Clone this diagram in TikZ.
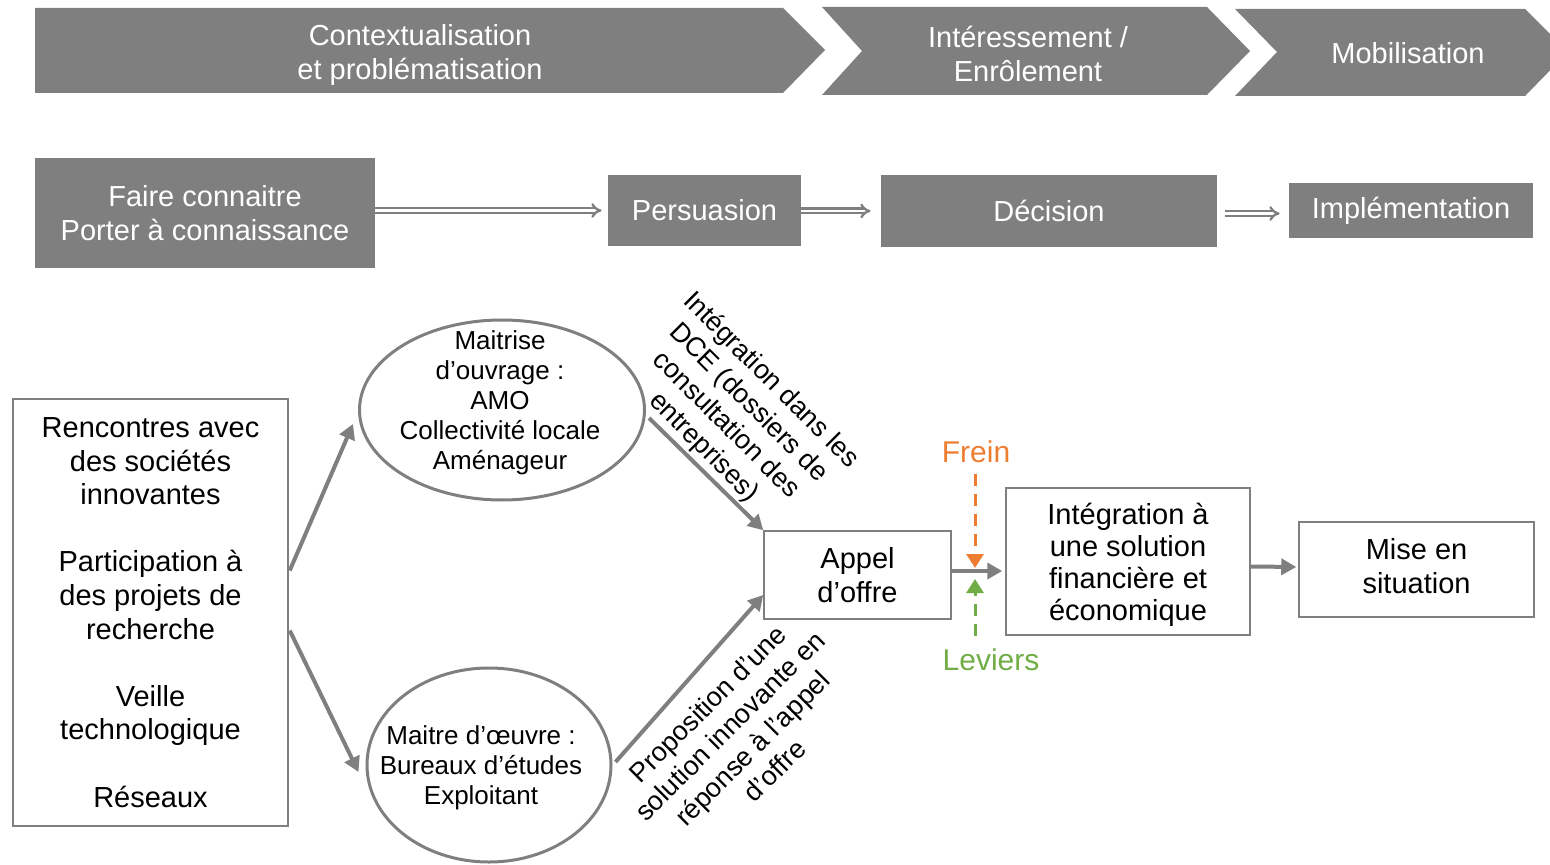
\documentclass[tikz,border=0pt]{standalone}
\usepackage{fontspec}
\setmainfont{Liberation Sans}
\usetikzlibrary{arrows.meta,shapes.geometric,calc}
\definecolor{dg}{HTML}{7F7F7F}
\definecolor{fr}{HTML}{ED7D31}
\definecolor{lv}{HTML}{70AD47}
\begin{document}
\begin{tikzpicture}[x=0.5pt,y=-0.5pt,
  htext/.style={text=white, font=\fontsize{14.5}{17}\selectfont, align=center},
  gbox/.style={fill=dg, text=white, font=\fontsize{14.5}{17}\selectfont, align=center, inner sep=0pt},
  wbox/.style={draw=dg, line width=0.75pt, fill=white, align=center, font=\fontsize{14.5}{16.8}\selectfont, inner sep=0pt},
  ell/.style={ellipse, draw=dg, line width=1.5pt, inner sep=0pt},
  etext/.style={font=\fontsize{13}{15}\selectfont, align=center},
  rtext/.style={font=\fontsize{13.5}{15.8}\selectfont, align=center},
  arr/.style={draw=dg, line width=2pt, -{Triangle[length=7.5pt,width=8pt]}},
  dbl/.style={draw=dg, double=white, double distance=1.2pt, line width=1.15pt, -{Implies}},
  dashfr/.style={draw=fr, line width=1.5pt, dash pattern=on 6pt off 4pt, -{Triangle[length=7pt,width=8.5pt]}},
  dashlv/.style={draw=lv, line width=1.5pt, dash pattern=on 6pt off 4pt, -{Triangle[length=7pt,width=8.5pt]}}
]
\useasboundingbox (0,0) rectangle (1550,865);
\clip (0,0) rectangle (1550,865);
% header chevrons
\fill[dg] (35,8) -- (783,8) -- (825,50) -- (783,93) -- (35,93) -- cycle;
\fill[dg] (822,7) -- (1207,7) -- (1250,51) -- (1207,95) -- (822,95) -- (862,51) -- cycle;
\fill[dg] (1235,9) -- (1525,9) -- (1568,52) -- (1525,96) -- (1235,96) -- (1277,52) -- cycle;
\node[htext] (c1) at (420,55) {Contextualisation\\et problématisation};
\node[htext] (c2) at (1028,54) {Intéressement /\\Enrôlement};
\node[htext] (c3) at (1408,53) {Mobilisation};
% second row
\node[gbox, minimum width=170pt, minimum height=55pt] (b1) at (205,213) {Faire connaitre\\Porter à connaissance};
\node[gbox, minimum width=96.5pt, minimum height=35.5pt] (b2) at (704.5,210.5) {Persuasion};
\node[gbox, minimum width=168pt, minimum height=36pt] (b3) at (1049,211) {Décision};
\node[gbox, minimum width=122pt, minimum height=27.5pt] (b4) at (1411,210.5) {Implémentation};
\draw[dbl, shorten >=3pt] (b1.east |- b2.west) -- (b2.west);
\draw[dbl, shorten >=5pt] (b2.east |- b3.west) -- (b3.west);
\draw[dbl, shorten <=4pt, shorten >=4.5pt] ($(b3.east |- b4.west)+(0,3)$) -- ($(b4.west)+(0,3)$);
% bottom part
\node[wbox, minimum width=137.5pt, minimum height=213.5pt] (left) at (150.5,612.5)
  {Rencontres avec\\des sociétés\\innovantes\\[16.8pt]Participation à\\des projets de\\recherche\\[16.8pt]Veille\\technologique\\[16.8pt]Réseaux};
\node[ell, minimum width=142.5pt, minimum height=90pt] (e1) at (502,410) {};
\node[etext] (t1) at (500,403) {Maitrise\\d’ouvrage :\\AMO\\Collectivité locale\\Aménageur};
\node[ell, minimum width=122pt, minimum height=97pt] (e2) at (489,765) {};
\node[etext] (t2) at (481,768) {Maitre d’œuvre :\\Bureaux d’études\\Exploitant};
\node[wbox, minimum width=93.5pt, minimum height=44pt] (appel) at (857.5,575) {Appel\\d’offre};
\node[wbox, minimum width=122pt, minimum height=73.5pt] (integ) at (1128,561.5) {};
\node[font=\fontsize{14.5}{16}\selectfont, align=center] (integt) at (1128,565)
  {Intégration à\\une solution\\financière et\\économique};
\node[wbox, minimum width=117.5pt, minimum height=47.5pt] (mise) at (1416.5,569.5) {};
\node[font=\fontsize{14.5}{16.8}\selectfont, align=center] (miset) at (1416.5,566) {Mise en\\situation};
\draw[arr] ($(left.east)+(1,-42)$) -- ($(e1.west)+(-5,14)$);
\draw[arr] ($(left.east)+(1,18)$) -- ($(e2.west)+(-7,7)$);
\draw[arr] ($(e1.east)+(3,8)$) -- (appel.north west);
\draw[arr] ($(e2.east)+(3,-3)$) -- ($(appel.west)+(0,20)$);
\draw[arr, shorten >=1.5pt] ($(appel.east)+(0,-4)$) -- ($(integ.west)+(0,9.5)$);
\draw[arr, shorten >=1pt] ($(integ.east)+(0,5)$) -- ($(mise.west)+(0,-2.5)$);
\node[rtext, rotate=-45] (r1) at (737,414) {Intégration dans les\\DCE (dossiers de\\consultation des\\entreprises)};
\node[rtext, rotate=45] (r2) at (741,737) {Proposition d’une\\solution innovante en\\réponse à l’appel\\d’offre};
% frein / leviers
\node[text=fr, font=\fontsize{15}{18}\selectfont] (frein) at (976,452) {Frein};
\node[text=lv, font=\fontsize{15}{18}\selectfont] (lev) at (991,660) {Leviers};
\coordinate (fe) at (975,568);
\coordinate (le) at (975,579);
\draw[dashfr] ($(frein.south -| fe)+(0,4)$) -- (fe);
\draw[dashlv] ($(lev.north -| le)+(0,-6)$) -- (le);
\end{tikzpicture}
\end{document}
